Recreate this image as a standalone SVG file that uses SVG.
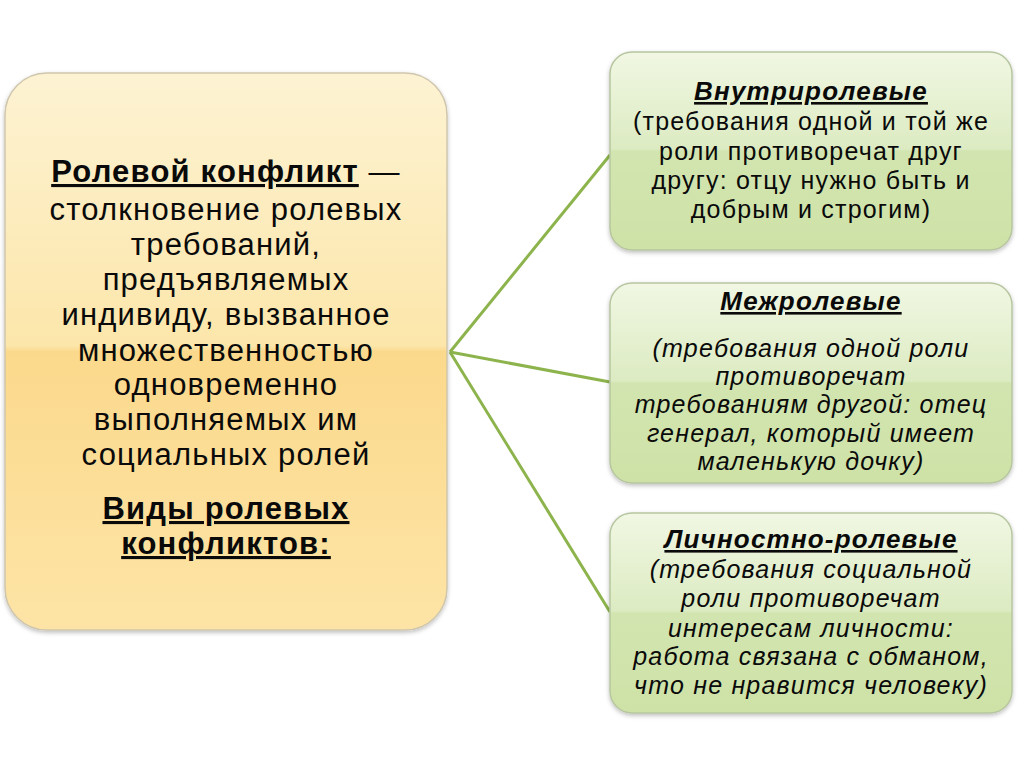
<svg xmlns="http://www.w3.org/2000/svg" width="1024" height="767" viewBox="0 0 1024 767">
<defs>
<linearGradient id="gy" x1="0" y1="0" x2="0" y2="1">
<stop offset="0" stop-color="#fdf3d3"/>
<stop offset="0.49" stop-color="#fce6aa"/>
<stop offset="0.5" stop-color="#fbd98c"/>
<stop offset="1" stop-color="#fde4a6"/>
</linearGradient>
<linearGradient id="gg" x1="0" y1="0" x2="0" y2="1">
<stop offset="0" stop-color="#f1f7e3"/>
<stop offset="0.49" stop-color="#dcebc2"/>
<stop offset="0.5" stop-color="#d2e5b0"/>
<stop offset="1" stop-color="#cee2a7"/>
</linearGradient>
<filter id="sh" x="-5%" y="-5%" width="110%" height="115%">
<feDropShadow dx="0" dy="2" stdDeviation="2" flood-color="#000" flood-opacity="0.25"/>
</filter>
</defs>
<style>
.main{font-family:"Liberation Sans",Arial,sans-serif;font-size:31px;letter-spacing:1.2px;fill:#0a0a0a;text-anchor:middle}
.b{font-weight:bold}
.u{text-decoration:underline}
.t{font-family:"Liberation Sans",Arial,sans-serif;font-size:25px;letter-spacing:1.2px;fill:#0a0a0a;text-anchor:middle}
.h{font-size:26px}
.i{font-style:italic}
.conn{stroke:#8db44c;stroke-width:3;fill:none}
</style>
<rect width="1024" height="767" fill="#ffffff"/>
<g id="connectors">
<line class="conn" x1="450" y1="352" x2="610" y2="155"/>
<line class="conn" x1="450" y1="352" x2="610" y2="382"/>
<line class="conn" x1="450" y1="352" x2="610" y2="612"/>
</g>
<g id="main">
<rect x="5" y="73" width="442" height="557" rx="42" fill="url(#gy)" stroke="#cfc6ad" stroke-width="1.5" filter="url(#sh)"/>
<text class="main" x="226" y="182"><tspan class="b u">Ролевой конфликт</tspan> —</text>
<text class="main" x="226" y="220">столкновение ролевых</text>
<text class="main" x="226" y="255">требований,</text>
<text class="main" x="226" y="290">предъявляемых</text>
<text class="main" x="226" y="325">индивиду, вызванное</text>
<text class="main" x="226" y="361">множественностью</text>
<text class="main" x="226" y="395">одновременно</text>
<text class="main" x="226" y="430">выполняемых им</text>
<text class="main" x="226" y="465">социальных ролей</text>
<text class="main b u" x="226" y="519">Виды ролевых</text>
<text class="main b u" x="226" y="554">конфликтов:</text>
</g>
<g id="intra">
<rect x="610" y="52" width="402" height="198" rx="22" fill="url(#gg)" stroke="#b7c6a0" stroke-width="1.5" filter="url(#sh)"/>
<text class="t h b i u" x="811" y="100">Внутриролевые</text>
<text class="t" x="811" y="130">(требования одной и той же</text>
<text class="t" x="811" y="160">роли противоречат друг</text>
<text class="t" x="811" y="189">другу: отцу нужно быть и</text>
<text class="t" x="811" y="218">добрым и строгим)</text>
</g>
<g id="inter">
<rect x="610" y="283" width="402" height="200" rx="22" fill="url(#gg)" stroke="#b7c6a0" stroke-width="1.5" filter="url(#sh)"/>
<text class="t h b i u" x="811" y="310">Межролевые</text>
<text class="t i" x="811" y="357">(требования одной роли</text>
<text class="t i" x="811" y="385">противоречат</text>
<text class="t i" x="811" y="413">требованиям другой: отец</text>
<text class="t i" x="811" y="442">генерал, который имеет</text>
<text class="t i" x="811" y="470">маленькую дочку)</text>
</g>
<g id="personal">
<rect x="610" y="513" width="402" height="200" rx="22" fill="url(#gg)" stroke="#b7c6a0" stroke-width="1.5" filter="url(#sh)"/>
<text class="t h b i u" x="811" y="548">Личностно-ролевые</text>
<text class="t i" x="811" y="578">(требования социальной</text>
<text class="t i" x="811" y="607">роли  противоречат</text>
<text class="t i" x="811" y="637">интересам личности:</text>
<text class="t i" x="811" y="665">работа связана с обманом,</text>
<text class="t i" x="811" y="694">что не нравится человеку)</text>
</g>
</svg>
